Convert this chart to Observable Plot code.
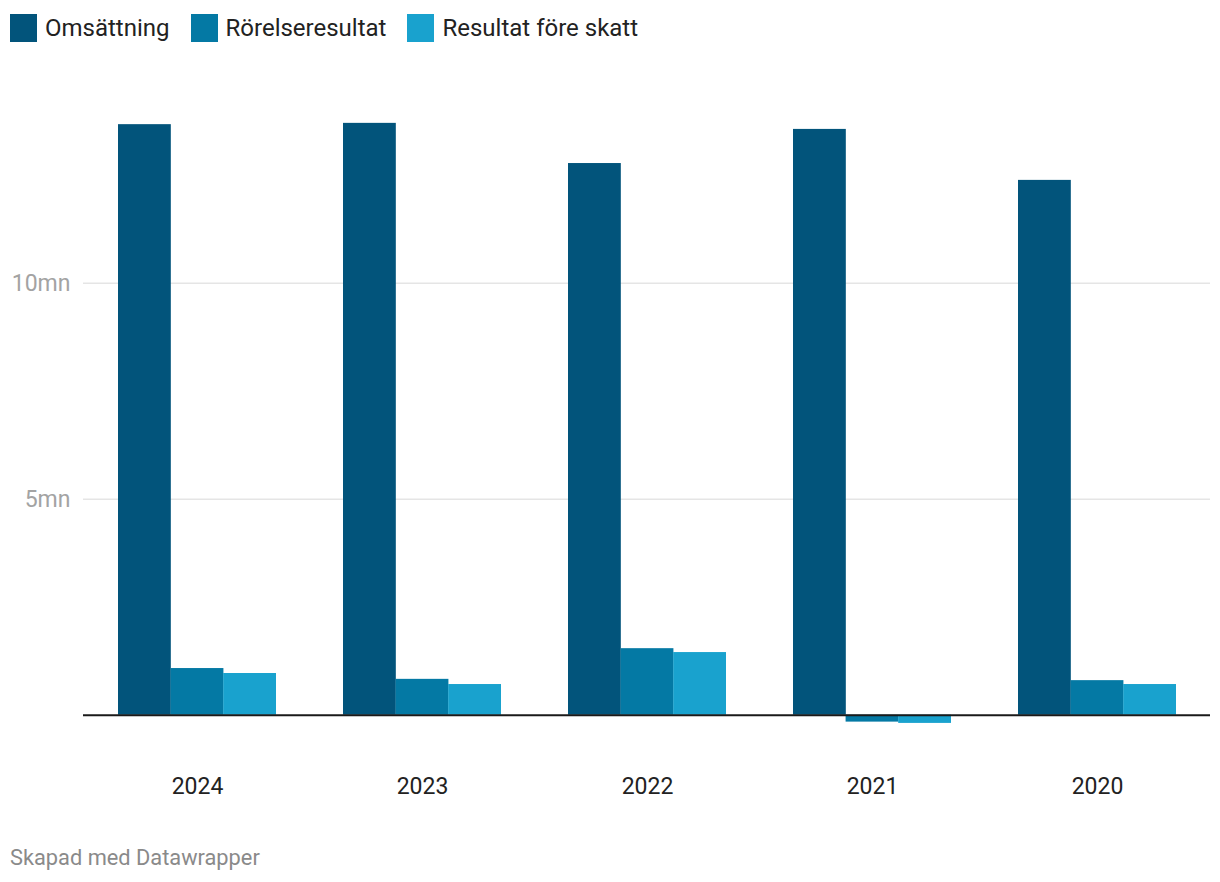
<!DOCTYPE html>
<html>
<head>
<meta charset="utf-8">
<script src="https://cdn.jsdelivr.net/npm/d3@7"></script>
<script src="https://cdn.jsdelivr.net/npm/@observablehq/plot@0.6"></script>
<style>
  html, body { margin: 0; padding: 0; background: #fff; }
  body { width: 1220px; height: 882px; font-family: Roboto, sans-serif; position: relative; overflow: hidden; }
  #legend { position: absolute; top: 14px; left: 10px; display: flex; align-items: center; font-size: 24px; color: #222; height: 28px; }
  .item { display: flex; align-items: center; margin-right: 21px; }
  .sw { width: 27px; height: 28px; margin-right: 8px; }
  #chart { position: absolute; top: 60px; left: 0; }
  #footer { position: absolute; top: 845px; left: 10px; font-size: 21.8px; color: #8a8a8a; line-height: 26px; }
</style>
</head>
<body>
<div id="legend"></div>
<div id="chart"></div>
<div id="footer">Skapad med Datawrapper</div>
<script>
const years = ["2024", "2023", "2022", "2021", "2020"];
const series = ["Omsättning", "Rörelseresultat", "Resultat före skatt"];
const colors = ["#02547b", "#0479a4", "#19a2ce"];
// values in millions
const omsattning = [13.67, 13.70, 12.77, 13.56, 12.38];
const rorelseresultat = [1.08, 0.83, 1.54, -0.16, 0.80];
const resultatForeSkatt = [0.965, 0.71, 1.45, -0.19, 0.71];
const yTicks = [5, 10];

const seriesValues = [omsattning, rorelseresultat, resultatForeSkatt];

const legend = document.getElementById("legend");
series.forEach((s, j) => {
  const it = document.createElement("div");
  it.className = "item";
  const sw = document.createElement("div");
  sw.className = "sw";
  sw.style.background = colors[j];
  const t = document.createElement("span");
  t.textContent = s;
  it.appendChild(sw); it.appendChild(t);
  legend.appendChild(it);
});

const W = 1220, ML = 83, MR = 10;
const PI = 0.3, PO = 0.15;
const step = (W - ML - MR) / (years.length - PI + 2 * PO);
const bw = step * (1 - PI);
const third = bw / series.length;

const barMarks = series.map((s, j) =>
  Plot.barY(years.map((y, i) => ({year: y, series: s, value: seriesValues[j][i]})), {
    x: "year", y: "value", fill: colors[j],
    insetLeft: j * third, insetRight: (series.length - 1 - j) * third
  })
);

const plot = Plot.plot({
  width: W,
  height: 760,
  marginLeft: ML,
  marginRight: MR,
  marginTop: 0,
  marginBottom: 60,
  style: {fontFamily: "Roboto, sans-serif", fontSize: "23px", background: "#fff"},
  x: {domain: years, paddingInner: PI, paddingOuter: PO, label: null, axis: null},
  y: {domain: [0, 10], range: [654.7, 222.7], axis: null},
  marks: [
    Plot.ruleY(yTicks, {stroke: "#e5e5e5", strokeWidth: 1.5}),
    ...barMarks,
    Plot.ruleY([0], {stroke: "#1a1a1a", strokeWidth: 2}),
    Plot.axisY(yTicks, {anchor: "left", tickSize: 0, tickPadding: 13, tickFormat: d => d + "mn", color: "#a3a3a3", label: null}),
    Plot.axisX({anchor: "bottom", tickSize: 0, tickPadding: 17, color: "#222", label: null})
  ]
});
document.getElementById("chart").appendChild(plot);
</script>
</body>
</html>
